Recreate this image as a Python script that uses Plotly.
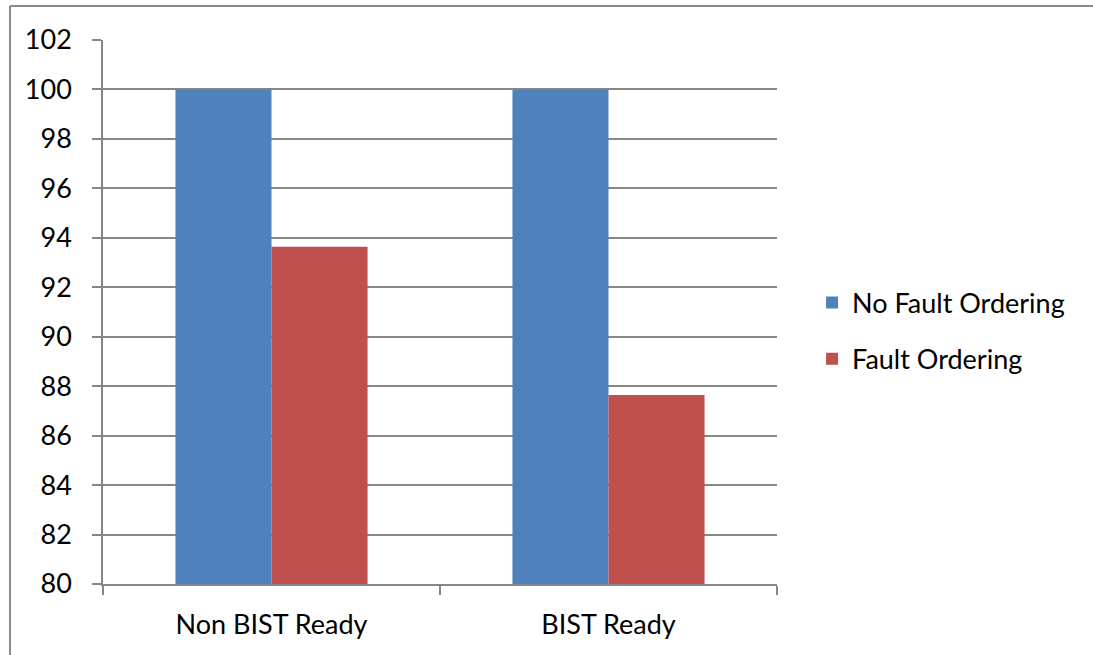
import plotly.graph_objects as go

categories = ["Non BIST Ready", "BIST Ready"]
no_fault_ordering = [100, 100]
fault_ordering = [93.64, 87.64]
series_names = ["No Fault Ordering", "Fault Ordering"]
series_colors = ["#4F81BD", "#C0504D"]

FONT = "Lato"
FONT_SIZE = 27
AXIS_GRAY = "#868686"

fig = go.Figure()
for name, vals, color, grp in zip(series_names, [no_fault_ordering, fault_ordering],
                                  series_colors, ["a", "b"]):
    fig.add_trace(go.Bar(
        x=categories, y=vals, name=name, legendgroup=grp,
        marker=dict(color=color, line=dict(width=0)),
    ))

# outer frame of the chart area (top and left edges)
frame = dict(color="#8A8A8A", width=2)
fig.add_shape(type="line", xref="paper", yref="paper",
              x0=-0.138, x1=1.47, y0=1.0625, y1=1.0625, line=frame)
fig.add_shape(type="line", xref="paper", yref="paper",
              x0=-0.138, x1=-0.138, y0=-0.15, y1=1.0625, line=frame)

fig.update_layout(
    width=1093, height=655,
    margin=dict(l=103, r=316, t=40, b=71),
    paper_bgcolor="white", plot_bgcolor="white",
    barmode="group", bargap=0.43, bargroupgap=0,
    font=dict(family=FONT, size=FONT_SIZE, color="black"),
    showlegend=True,
    legend=dict(
        x=1.052, xanchor="left", y=0.465, yanchor="middle",
        traceorder="grouped", tracegroupgap=18,
        font=dict(family=FONT, size=FONT_SIZE, color="black"),
        bgcolor="rgba(0,0,0,0)",
    ),
    xaxis=dict(
        showline=True, linecolor=AXIS_GRAY, linewidth=1.5,
        ticks="outside", tickson="boundaries", ticklen=9,
        tickcolor=AXIS_GRAY, tickwidth=1.5,
        showgrid=False, ticklabelstandoff=16,
        tickfont=dict(family=FONT, size=FONT_SIZE, color="black"),
    ),
    yaxis=dict(
        range=[80, 102], dtick=2, tick0=80,
        showline=True, linecolor=AXIS_GRAY, linewidth=1.5,
        ticks="outside", ticklen=9, tickcolor=AXIS_GRAY, tickwidth=1.5,
        showgrid=True, gridcolor=AXIS_GRAY, gridwidth=1.5,
        zeroline=False, ticklabelstandoff=15,
        tickfont=dict(family=FONT, size=FONT_SIZE, color="black"),
    ),
)

fig.write_html("out.html")
